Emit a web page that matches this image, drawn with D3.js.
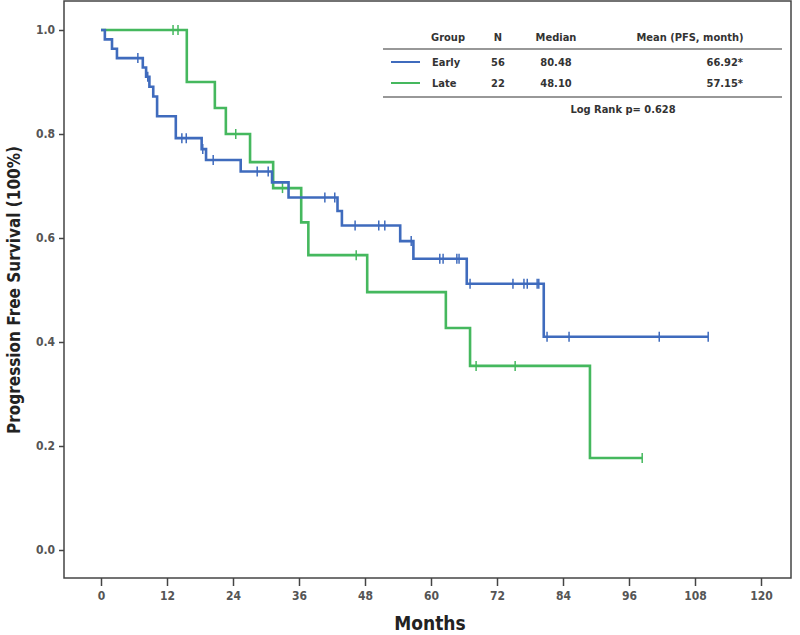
<!DOCTYPE html>
<html><head><meta charset="utf-8">
<script src="https://cdn.jsdelivr.net/npm/d3@7"></script>
<style>
body{margin:0;background:#fff;}
svg{display:block;}
text{font-family:"DejaVu Sans Condensed","Open Sans",sans-serif;}
</style></head>
<body><svg id="c" width="800" height="635"></svg>
<script>
// Kaplan-Meier step data (time in months, survival)
const earlyTimes = [0, 0.7, 2.0, 2.9, 7.6, 8.2, 8.8, 9.5, 10.2, 13.6, 18.3, 19.1, 25.4, 31.1, 34.1, 43.0, 43.8, 54.4, 56.8, 66.5, 80.5, 110.4];
const earlySurv  = [1, 0.982, 0.964, 0.946, 0.928, 0.910, 0.891, 0.872, 0.834, 0.792, 0.771, 0.750, 0.728, 0.707, 0.678, 0.652, 0.624, 0.594, 0.560, 0.512, 0.410, 0.410];
const earlyCensor = [6.7, 8.5, 14.7, 15.5, 18.5, 20.4, 28.4, 30.4, 40.7, 42.5, 46.2, 50.5, 51.6, 56.4, 61.6, 62.2, 64.7, 65.1, 67.1, 74.9, 76.9, 77.5, 79.3, 79.6, 81.1, 85.1, 101.5, 110.4];

const lateTimes = [0, 15.6, 20.7, 22.7, 27.1, 31.3, 36.4, 37.7, 48.4, 62.7, 67.1, 88.9, 98.4];
const lateSurv  = [1, 0.900, 0.850, 0.800, 0.746, 0.696, 0.630, 0.567, 0.496, 0.427, 0.354, 0.177, 0.177];
const lateCensor = [13.1, 14.0, 24.5, 33.0, 46.4, 68.2, 75.3, 98.4];

const xTicks = [0, 12, 24, 36, 48, 60, 72, 84, 96, 108, 120];
const yTicks = [0, 0.2, 0.4, 0.6, 0.8, 1.0];

const tableHeader = ["Group", "N", "Median", "Mean (PFS, month)"];
const groups = ["Early", "Late"];
const groupN = ["56", "22"];
const groupMedian = ["80.48", "48.10"];
const groupMean = ["66.92*", "57.15*"];
const logRank = "Log Rank p= 0.628";

const colors = {Early: "#3f6bbd", Late: "#45b85e"};

const svg = d3.select("#c");
const x = d3.scaleLinear().domain([0, 120]).range([101, 761]);
const y = d3.scaleLinear().domain([0, 1]).range([550, 30]);

// frame
svg.append("rect").attr("x", 64).attr("y", 1).attr("width", 727).attr("height", 577)
  .attr("fill", "none").attr("stroke", "#444").attr("stroke-width", 1.5);

// axes
const yAxis = d3.axisLeft(y).tickValues(yTicks).tickFormat(d3.format(".1f")).tickSize(5).tickSizeOuter(0);
const gy = svg.append("g").attr("transform", "translate(64,0)").call(yAxis);
gy.select(".domain").remove();
gy.selectAll("line").attr("stroke", "#444").attr("stroke-width", 1.5);
gy.selectAll("text").attr("fill", "#555").attr("font-size", 12).attr("font-weight", "bold").attr("dx", "-1");

const xAxis = d3.axisBottom(x).tickValues(xTicks).tickSize(8).tickSizeOuter(0);
const gx = svg.append("g").attr("transform", "translate(0,578)").call(xAxis);
gx.select(".domain").remove();
gx.selectAll("line").attr("stroke", "#444").attr("stroke-width", 1.5);
gx.selectAll("text").attr("fill", "#555").attr("font-size", 12).attr("font-weight", "bold").attr("dy", "0.9em");

// axis titles
svg.append("text").attr("transform", "translate(20,290) rotate(-90)").attr("text-anchor", "middle")
  .attr("font-size", 17).attr("font-weight", "bold").attr("fill", "#222")
  .text("Progression Free Survival (100%)");
svg.append("text").attr("x", 430).attr("y", 630).attr("text-anchor", "middle")
  .attr("font-size", 19).attr("font-weight", "bold").attr("fill", "#222").text("Months");

// curves
function drawKM(times, surv, censor, color) {
  const pts = times.map((t, i) => [t, surv[i]]);
  const line = d3.line().x(d => x(d[0])).y(d => y(d[1])).curve(d3.curveStepAfter);
  svg.append("path").attr("d", line(pts)).attr("fill", "none").attr("stroke", color).attr("stroke-width", 2.6);
  const survAt = t => { let s = surv[0]; for (let i = 0; i < times.length; i++) { if (times[i] <= t) s = surv[i]; } return s; };
  svg.append("g").selectAll("line").data(censor).join("line")
    .attr("x1", d => x(d)).attr("x2", d => x(d))
    .attr("y1", d => y(survAt(d)) - 5).attr("y2", d => y(survAt(d)) + 5)
    .attr("stroke", color).attr("stroke-width", 1.5);
}
drawKM(lateTimes, lateSurv, lateCensor, colors.Late);
drawKM(earlyTimes, earlySurv, earlyCensor, colors.Early);

// legend table
const tg = svg.append("g");
const fs = 11;
const hx = [448, 498, 556, 690];
tableHeader.forEach((h, i) => {
  tg.append("text").attr("x", hx[i]).attr("y", 41).attr("text-anchor", "middle")
    .attr("font-size", fs).attr("font-weight", "bold").attr("fill", "#333").text(h);
});
tg.append("line").attr("x1", 383).attr("x2", 782).attr("y1", 49).attr("y2", 49).attr("stroke", "#333").attr("stroke-width", 1.2);
groups.forEach((g, i) => {
  const ry = 66 + i * 21;
  tg.append("line").attr("x1", 391).attr("x2", 420).attr("y1", ry - 4).attr("y2", ry - 4)
    .attr("stroke", colors[g]).attr("stroke-width", 2);
  tg.append("text").attr("x", 432).attr("y", ry).attr("font-size", fs).attr("font-weight", "bold").attr("fill", "#333").text(g);
  tg.append("text").attr("x", 498).attr("y", ry).attr("text-anchor", "middle").attr("font-size", fs).attr("font-weight", "bold").attr("fill", "#333").text(groupN[i]);
  tg.append("text").attr("x", 556).attr("y", ry).attr("text-anchor", "middle").attr("font-size", fs).attr("font-weight", "bold").attr("fill", "#333").text(groupMedian[i]);
  tg.append("text").attr("x", 743).attr("y", ry).attr("text-anchor", "end").attr("font-size", fs).attr("font-weight", "bold").attr("fill", "#333").text(groupMean[i]);
});
tg.append("line").attr("x1", 383).attr("x2", 782).attr("y1", 97).attr("y2", 97).attr("stroke", "#333").attr("stroke-width", 1.2);
tg.append("text").attr("x", 623).attr("y", 113).attr("text-anchor", "middle").attr("font-size", fs).attr("font-weight", "bold").attr("fill", "#333").text(logRank);
</script></body></html>
